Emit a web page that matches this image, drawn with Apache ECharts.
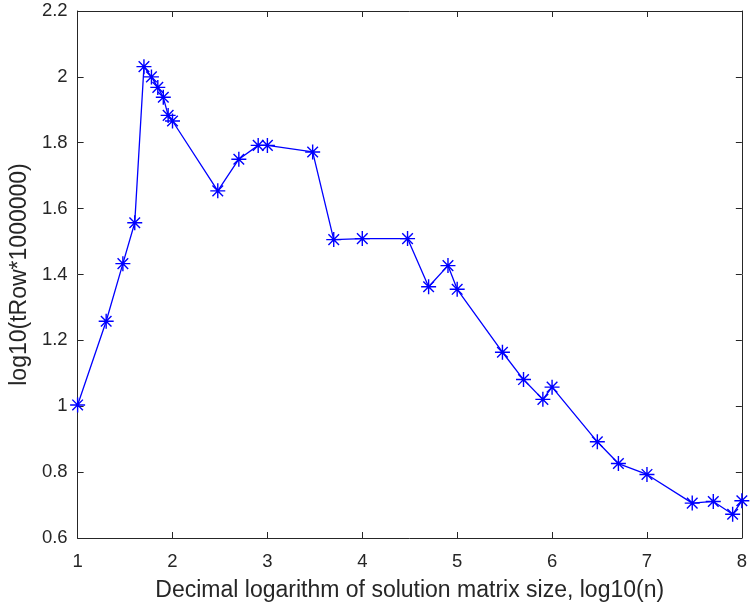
<!DOCTYPE html>
<html>
<head>
<meta charset="utf-8">
<script src="https://cdn.jsdelivr.net/npm/echarts@6/dist/echarts.min.js"></script>
<style>html,body{margin:0;padding:0;background:#fff;}#c{width:750px;height:610px;}</style>
</head>
<body>
<div id="c"></div>
<script>
var xValues = [1, 1.301, 1.477, 1.602, 1.699, 1.778, 1.845, 1.903, 1.954, 2,
  2.477, 2.699, 2.903, 3, 3.477, 3.699, 4, 4.477, 4.699, 4.903, 5,
  5.477, 5.699, 5.903, 6, 6.477, 6.699, 7, 7.477, 7.699, 7.903, 8];
var yValues = [1.004, 1.258, 1.433, 1.557, 2.031, 2.0, 1.968, 1.938, 1.883, 1.866,
  1.654, 1.750, 1.792, 1.792, 1.772, 1.506, 1.509, 1.509, 1.363, 1.427, 1.355,
  1.164, 1.081, 1.021, 1.058, 0.892, 0.826, 0.793, 0.706, 0.711, 0.672, 0.713];
var xTicks = [1, 2, 3, 4, 5, 6, 7, 8];
var yTicks = ['0.6', '0.8', '1', '1.2', '1.4', '1.6', '1.8', '2', '2.2'];
var xLabel = 'Decimal logarithm of solution matrix size, log10(n)';
var yLabel = 'log10(tRow*1000000)';

var pts = xValues.map(function (x, i) { return [x, yValues[i]]; });
var font = 'Liberation Sans, Arial, Helvetica, sans-serif';
var axisCol = '#262626';
var fs = 18.5;
var lfs = 23;

var chart = echarts.init(document.getElementById('c'), null, {renderer: 'canvas'});
function baseAxis(extra) {
  var a = {
    axisLine: {show: true, onZero: false, lineStyle: {color: axisCol, width: 1}},
    axisTick: {show: true, inside: true, length: 6, lineStyle: {color: axisCol, width: 1}},
    splitLine: {show: false},
    axisLabel: {show: true, color: axisCol, fontFamily: font, fontSize: fs}
  };
  for (var k in extra) a[k] = extra[k];
  return a;
}
chart.setOption({
  animation: false,
  backgroundColor: '#ffffff',
  grid: {left: 77, right: 5, top: 11, bottom: 72, containLabel: false},
  xAxis: [
    baseAxis({type: 'value', min: xTicks[0], max: xTicks[xTicks.length - 1], interval: 1, position: 'bottom',
      name: xLabel, nameLocation: 'middle', nameGap: 41,
      nameTextStyle: {color: axisCol, fontFamily: font, fontSize: lfs},
      axisLabel: {show: true, color: axisCol, fontFamily: font, fontSize: fs, margin: 14,
        formatter: function (v) { return String(v); }}}),
    baseAxis({type: 'value', min: xTicks[0], max: xTicks[xTicks.length - 1], interval: 1, position: 'top',
      axisLabel: {show: false}})
  ],
  yAxis: [
    baseAxis({type: 'value', min: 0.6, max: 2.2, interval: 0.2, position: 'left',
      name: yLabel, nameLocation: 'middle', nameGap: 46, nameRotate: 90,
      nameTextStyle: {color: axisCol, fontFamily: font, fontSize: lfs},
      axisLabel: {show: true, color: axisCol, fontFamily: font, fontSize: fs, margin: 10,
        formatter: function (v) { var i = Math.round((v - 0.6) / 0.2); return yTicks[i]; }}}),
    baseAxis({type: 'value', min: 0.6, max: 2.2, interval: 0.2, position: 'right',
      axisLabel: {show: false}})
  ],
  series: [{
    type: 'line',
    data: pts,
    xAxisIndex: 0, yAxisIndex: 0,
    symbol: 'path://M0,-10L0,10M-10,0L10,0M-7.07,-7.07L7.07,7.07M-7.07,7.07L7.07,-7.07',
    symbolSize: 15,
    showAllSymbol: true,
    clip: false,
    lineStyle: {color: '#0000ff', width: 1.3},
    itemStyle: {color: '#0000ff', borderColor: '#0000ff', borderWidth: 1.4}
  }]
});
</script>
</body>
</html>
